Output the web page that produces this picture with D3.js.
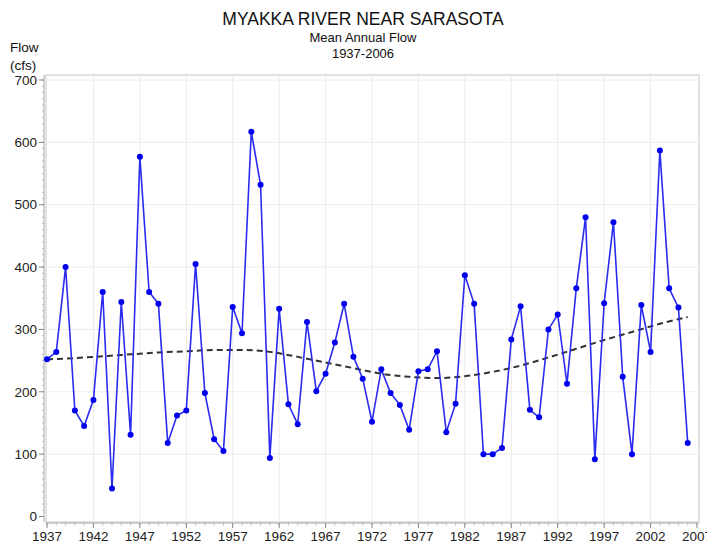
<!DOCTYPE html>
<html><head><meta charset="utf-8">
<script src="https://cdn.jsdelivr.net/npm/d3@7/dist/d3.min.js"></script>
<style>body{margin:0;background:#fff;}svg{display:block;font-family:"Liberation Sans",Arial,sans-serif;}</style>
</head><body>
<svg id="chart" width="707" height="543"></svg>
<script>
const years = d3.range(1937, 2007);
const flows = [252,264,400,170,145,187,360,45,344,131,
  577,360,341,118,162,170,405,198,124,105,
  336,294,617,532,94,333,180,148,312,201,
  229,279,341,256,221,152,236,198,179,139,
  233,236,265,135,181,387,341,100,100,110,
  284,337,171,159,300,324,213,366,480,92,
  342,472,224,100,339,264,587,366,335,118];
const trendYears = [1937,1940,1943,1946,1949,1952,1955,1958,1961,1964,1967,1970,1973,1976,1979,1982,1985,1988,1991,1994,1997,2000,2003,2006];
const trendValues = [252,254,257,260,263,265,267,267,264,256,247,238,229,224,222,225,232,242,255,269,283,296,309,320];
const xTicks = d3.range(1937, 2008, 5);
const yTicks = [0,100,200,300,400,500,600,700];
const title = "MYAKKA RIVER NEAR SARASOTA";
const subtitle1 = "Mean Annual Flow";
const subtitle2 = "1937-2006";

const svg = d3.select("#chart");
const x = d3.scaleLinear().domain([1937, 2007]).range([47, 697]);
const y = d3.scaleLinear().domain([0, 700]).range([516.5, 80]);

// plot frame
svg.append("rect").attr("x", 46).attr("y", 75).attr("width", 653).attr("height", 447)
  .attr("fill", "#fff").attr("stroke", "#d9d9d9").attr("stroke-width", 1.5);

// grid
svg.append("g").selectAll("line").data(xTicks.slice(1, -1)).join("line")
  .attr("x1", d => x(d)).attr("x2", d => x(d)).attr("y1", 76).attr("y2", 522)
  .attr("stroke", "#ebebeb").attr("stroke-width", 1);
svg.append("g").selectAll("line").data(yTicks.slice(1)).join("line")
  .attr("x1", 46).attr("x2", 699).attr("y1", d => y(d)).attr("y2", d => y(d))
  .attr("stroke", "#ebebeb").attr("stroke-width", 1);

// y axis
const yAxis = svg.append("g").attr("transform", "translate(44,0)");
yAxis.append("line").attr("x1", 0).attr("x2", 0).attr("y1", 75).attr("y2", 522).attr("stroke", "#aaa");
yAxis.selectAll(".minor").data(d3.range(0, 701, 10)).join("line")
  .attr("x1", -2).attr("x2", 0).attr("y1", d => y(d)).attr("y2", d => y(d)).attr("stroke", "#bbb");
yAxis.selectAll(".major").data(yTicks).join("line")
  .attr("x1", -5).attr("x2", 0).attr("y1", d => y(d)).attr("y2", d => y(d)).attr("stroke", "#888");
yAxis.selectAll("text").data(yTicks).join("text")
  .attr("x", -7).attr("y", d => y(d)).attr("dy", "0.35em").attr("text-anchor", "end")
  .attr("font-size", 13.5).attr("fill", "#222").text(d => d);

// x axis
const xAxis = svg.append("g").attr("transform", "translate(0,523)");
xAxis.append("line").attr("x1", 46).attr("x2", 699).attr("y1", 0).attr("y2", 0).attr("stroke", "#aaa");
xAxis.selectAll(".minor").data(d3.range(1937, 2008)).join("line")
  .attr("x1", d => x(d)).attr("x2", d => x(d)).attr("y1", 0).attr("y2", 2.5).attr("stroke", "#bbb");
xAxis.selectAll(".major").data(xTicks).join("line")
  .attr("x1", d => x(d)).attr("x2", d => x(d)).attr("y1", 0).attr("y2", 5).attr("stroke", "#888");
xAxis.selectAll("text").data(xTicks).join("text")
  .attr("x", d => x(d)).attr("y", 18).attr("text-anchor", "middle")
  .attr("font-size", 13.5).attr("fill", "#222").text(d => d);

// trend line
const tdata = trendYears.map((yr, i) => [yr, trendValues[i]]);
svg.append("path").datum(tdata)
  .attr("d", d3.line().x(d => x(d[0])).y(d => y(d[1])).curve(d3.curveMonotoneX))
  .attr("fill", "none").attr("stroke", "#333").attr("stroke-width", 2).attr("stroke-dasharray", "6,4");

// flow line
const data = years.map((yr, i) => [yr, flows[i]]);
svg.append("path").datum(data)
  .attr("d", d3.line().x(d => x(d[0])).y(d => y(d[1])))
  .attr("fill", "none").attr("stroke", "#2a2af0").attr("stroke-width", 1.6);
svg.append("g").selectAll("circle").data(data).join("circle")
  .attr("cx", d => x(d[0])).attr("cy", d => y(d[1])).attr("r", 3)
  .attr("fill", "#0000ee");

// titles
svg.append("text").attr("x", 363).attr("y", 25).attr("text-anchor", "middle")
  .attr("font-size", 17.5).attr("fill", "#111").text(title);
svg.append("text").attr("x", 363).attr("y", 42).attr("text-anchor", "middle")
  .attr("font-size", 13).attr("fill", "#111").text(subtitle1);
svg.append("text").attr("x", 363).attr("y", 58).attr("text-anchor", "middle")
  .attr("font-size", 13).attr("fill", "#111").text(subtitle2);
svg.append("text").attr("x", 10).attr("y", 52).attr("font-size", 13.5).attr("fill", "#111").text("Flow");
svg.append("text").attr("x", 10).attr("y", 70).attr("font-size", 13.5).attr("fill", "#111").text("(cfs)");
</script>
</body></html>
